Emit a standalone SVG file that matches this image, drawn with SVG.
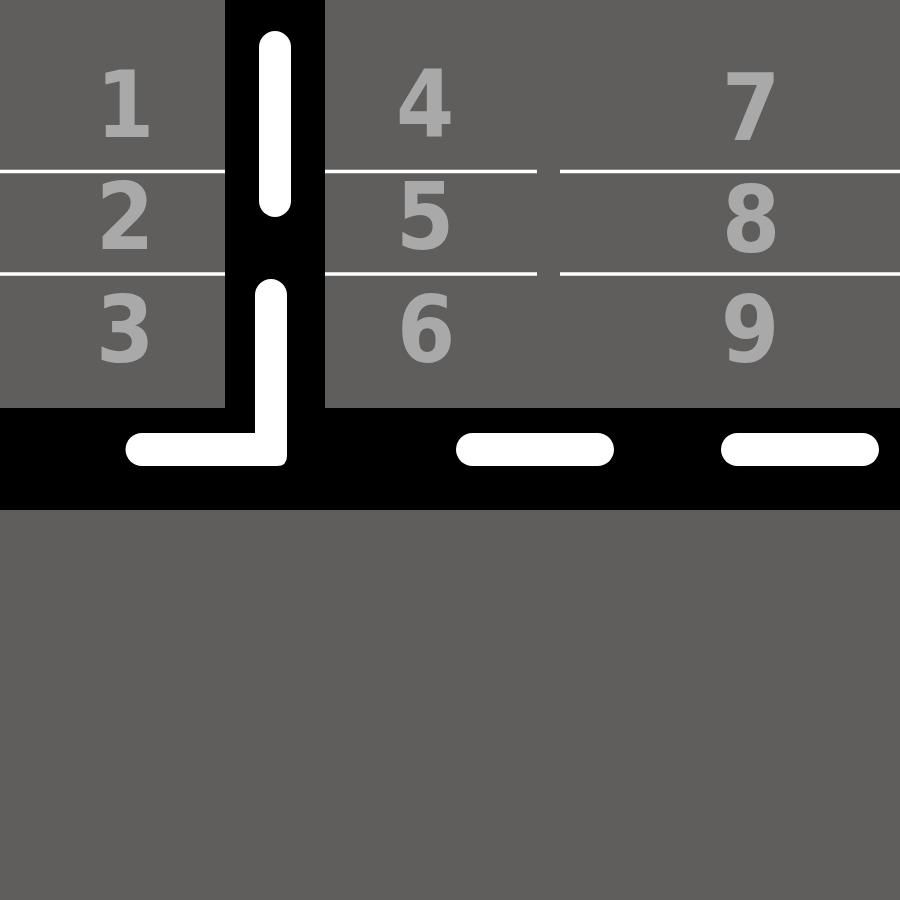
<svg xmlns="http://www.w3.org/2000/svg" width="900" height="900" viewBox="0 0 900 900">
<style>
.road{fill:#000}
.lane{stroke:#fff;stroke-width:3.5;fill:none}
.dash{fill:#fff}
.num{font-family:"DejaVu Sans Condensed","DejaVu Sans",sans-serif;font-weight:bold;font-size:93px;fill:#aaa9aa;text-anchor:middle}
</style>
<rect width="900" height="900" fill="#5f5e5c"/>
<g id="lanes">
<line class="lane" x1="0" y1="171.5" x2="225" y2="171.5"/>
<line class="lane" x1="325" y1="171.5" x2="537" y2="171.5"/>
<line class="lane" x1="560" y1="171.5" x2="900" y2="171.5"/>
<line class="lane" x1="0" y1="274" x2="225" y2="274"/>
<line class="lane" x1="325" y1="274" x2="537" y2="274"/>
<line class="lane" x1="560" y1="274" x2="900" y2="274"/>
</g>
<g id="roads">
<rect class="road" x="225" y="0" width="100" height="410"/>
<rect class="road" x="0" y="408" width="900" height="102"/>
<rect class="dash" x="259" y="31" width="32" height="186" rx="16"/>
<path class="dash" d="M255 295 A16 16 0 0 1 287 295 L287 456 Q287 466 277 466 L142 466 A16.5 16.5 0 0 1 142 433 L255 433 Z"/>
<rect class="dash" x="456" y="433" width="158" height="33" rx="16.5"/>
<rect class="dash" x="721" y="433" width="158" height="33" rx="16.5"/>
</g>
<g id="cell-1"><text class="num" x="125" y="137">1</text></g>
<g id="cell-2"><text class="num" x="125" y="249">2</text></g>
<g id="cell-3"><text class="num" x="125" y="362">3</text></g>
<g id="cell-4"><text class="num" x="425" y="136">4</text></g>
<g id="cell-5"><text class="num" x="425" y="249">5</text></g>
<g id="cell-6"><text class="num" x="426" y="362">6</text></g>
<g id="cell-7"><text class="num" x="751" y="140">7</text></g>
<g id="cell-8"><text class="num" x="751" y="252">8</text></g>
<g id="cell-9"><text class="num" x="750" y="362">9</text></g>
</svg>
